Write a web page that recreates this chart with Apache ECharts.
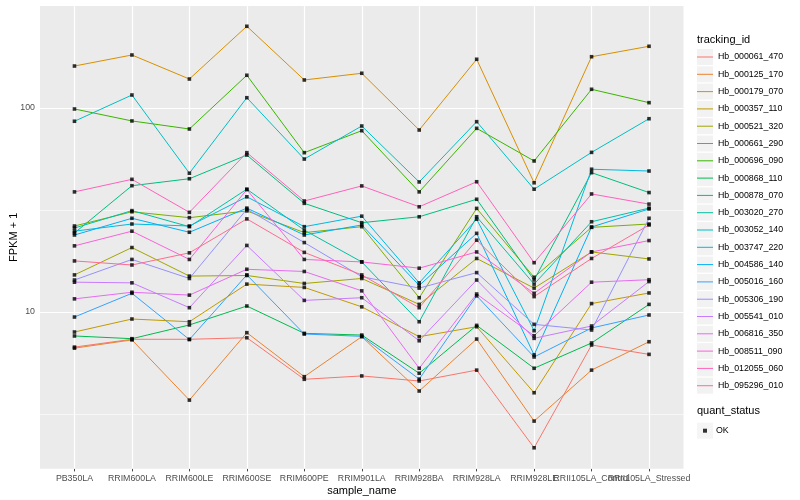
<!DOCTYPE html>
<html>
<head>
<meta charset="utf-8">
<script src="https://cdn.jsdelivr.net/npm/echarts@6/dist/echarts.min.js"></script>
<style>
html,body{margin:0;padding:0;background:#fff;}
#chart{width:800px;height:500px;}
</style>
</head>
<body>
<div id="chart"></div>
<script>
// ---- data ----
const samples = ['PB350LA','RRIM600LA','RRIM600LE','RRIM600SE','RRIM600PE','RRIM901LA','RRIM928BA','RRIM928LA','RRIM928LE','RRII105LA_Control','RRII105LA_Stressed'];
const trackingIds = ['Hb_000061_470','Hb_000125_170','Hb_000179_070','Hb_000357_110','Hb_000521_320','Hb_000661_290','Hb_000696_090','Hb_000868_110','Hb_000878_070','Hb_003020_270','Hb_003052_140','Hb_003747_220','Hb_004586_140','Hb_005016_160','Hb_005306_190','Hb_005541_010','Hb_006816_350','Hb_008511_090','Hb_012055_060','Hb_095296_010'];

const hb_000061_470 = [6.73, 7.35, 7.35, 7.48, 4.68, 4.86, 4.59, 5.19, 2.16, 6.89, 6.20];
const hb_000125_170 = [6.65, 7.30, 3.70, 7.92, 4.82, 7.57, 4.10, 7.37, 2.92, 5.19, 7.15];
const hb_000179_070 = [160.6, 181.9, 138.7, 251.5, 137.2, 148.0, 78.0, 173.3, 43.0, 178.4, 200.7];
const hb_000357_110 = [7.98, 9.24, 8.96, 13.7, 13.2, 10.6, 7.57, 8.47, 4.02, 11.0, 12.4];
const hb_000521_320 = [15.2, 20.7, 15.0, 15.1, 13.8, 14.6, 10.9, 18.3, 13.1, 19.7, 18.2];
const hb_000661_290 = [26.4, 31.0, 29.0, 31.3, 24.5, 26.2, 11.75, 32.2, 14.8, 26.0, 27.0];
const hb_000696_090 = [98.9, 86.4, 78.9, 144.7, 60.4, 77.4, 38.8, 79.5, 55.0, 123.5, 106.2];
const hb_000868_110 = [7.63, 7.40, 8.64, 10.7, 7.86, 7.71, 5.01, 8.60, 5.30, 7.05, 10.9];
const hb_000878_070 = [24.4, 41.6, 45.0, 58.8, 34.1, 27.4, 29.3, 35.7, 14.35, 48.2, 38.5];
const hb_003020_270 = [25.8, 31.4, 26.2, 40.0, 25.2, 17.6, 8.96, 29.3, 13.7, 27.7, 32.3];
const hb_003052_140 = [86.1, 115.8, 47.9, 112.3, 56.2, 81.6, 43.4, 85.7, 40.0, 60.6, 88.6];
const hb_003747_220 = [24.9, 27.0, 26.4, 36.7, 26.2, 29.5, 13.9, 28.5, 8.10, 50.1, 49.1];
const hb_004586_140 = [23.85, 28.8, 24.6, 32.3, 23.85, 26.7, 13.5, 24.3, 6.16, 26.1, 32.0];
const hb_005016_160 = [9.45, 12.35, 7.33, 15.2, 7.80, 7.60, 4.69, 12.0, 6.02, 8.35, 9.67];
const hb_005306_190 = [14.35, 18.1, 14.6, 31.9, 21.9, 14.9, 13.1, 15.6, 8.70, 8.16, 28.8];
const hb_005541_010 = [14.0, 13.9, 10.5, 21.2, 11.4, 11.75, 7.23, 14.35, 7.43, 8.54, 14.1];
const hb_006816_350 = [11.6, 12.5, 12.1, 16.2, 15.8, 12.7, 5.30, 12.25, 7.65, 14.0, 14.4];
const hb_008511_090 = [21.1, 24.9, 18.1, 39.8, 18.1, 17.6, 16.4, 19.7, 12.35, 19.7, 22.4];
const hb_012055_060 = [38.8, 44.7, 30.8, 60.4, 35.0, 41.5, 32.8, 43.5, 17.45, 37.9, 33.8];
const hb_095296_010 = [17.8, 17.0, 19.5, 28.6, 19.6, 15.2, 10.5, 22.5, 11.9, 18.3, 26.7];

const seriesValues = [hb_000061_470, hb_000125_170, hb_000179_070, hb_000357_110, hb_000521_320,
  hb_000661_290, hb_000696_090, hb_000868_110, hb_000878_070, hb_003020_270, hb_003052_140,
  hb_003747_220, hb_004586_140, hb_005016_160, hb_005306_190, hb_005541_010, hb_006816_350,
  hb_008511_090, hb_012055_060, hb_095296_010];

const yTickLabels = [10, 100];
const yMinorGrid = [3.162, 31.62];
const quantStatus = ['OK'];

// ---- style ----
const colors = ['#F8766D','#EA8331','#D89000','#C09B00','#A3A500','#7CAE00','#39B600','#00BB4E','#00BF7D','#00C1A3','#00BFC4','#00BAE0','#00B0F6','#35A2FF','#9590FF','#C77CFF','#E76BF3','#FA62DB','#FF62BC','#FF6C91'];
const FONT = 'Liberation Sans, Arial, sans-serif';
const xIdx = samples.map((s, i) => i);
const xEven = xIdx.filter(i => i % 2 === 0);
const xOdd = xIdx.filter(i => i % 2 === 1);

const chart = echarts.init(document.getElementById('chart'), null, {renderer: 'canvas'});

const gridLines = [];
yTickLabels.forEach(v => gridLines.push({yAxis: v, lineStyle: {color: '#ffffff', width: 1.2, type: 'solid'}}));
yMinorGrid.forEach(v => gridLines.push({yAxis: v, lineStyle: {color: '#ffffff', width: 0.6, type: 'solid'}}));
xIdx.forEach(v => gridLines.push({xAxis: v, lineStyle: {color: '#ffffff', width: 1.2, type: 'solid'}}));

const series = [];
series.push({
  name: '__grid', type: 'line', data: [], silent: true, z: 1,
  markLine: {silent: true, z: 1, symbol: ['none', 'none'], label: {show: false}, animation: false, data: gridLines}
});
trackingIds.forEach((name, k) => {
  series.push({
    name: name, type: 'line', z: 2,
    data: seriesValues[k].map((v, i) => [i, v]),
    symbol: 'none', showSymbol: false,
    lineStyle: {color: colors[k], width: 1},
    itemStyle: {color: colors[k]},
    emphasis: {disabled: true}, silent: true
  });
});
const allPoints = [];
seriesValues.forEach(arr => arr.forEach((v, i) => allPoints.push([i, v])));
series.push({
  name: quantStatus[0], type: 'scatter', z: 3, data: allPoints,
  symbol: 'rect', symbolSize: 3.6, itemStyle: {color: '#000000'},
  emphasis: {disabled: true}, silent: true
});

const legendCommon = {orient: 'vertical', padding: 0, selectedMode: false, itemGap: 1.3};

function makeXAxis(vals, withName) {
  const ax = {
    type: 'value', min: -0.6, max: 10.6, position: 'bottom', offset: 0,
    axisLine: {show: false},
    axisTick: {show: true, length: 2.7, customValues: vals, lineStyle: {color: '#333333', width: 0.9}},
    axisLabel: {customValues: vals, formatter: v => samples[Math.round(v)], fontSize: 8.8, color: '#4D4D4D', margin: 5, fontFamily: FONT, hideOverlap: false, showMinLabel: true, showMaxLabel: true},
    splitLine: {show: false}
  };
  if (withName) {
    ax.name = 'sample_name';
    ax.nameLocation = 'middle';
    ax.nameGap = 17;
    ax.nameMoveOverlap = false;
    ax.nameTextStyle = {fontSize: 11, color: '#000', fontFamily: FONT};
  }
  return ax;
}

const option = {
  animation: false,
  backgroundColor: '#ffffff',
  textStyle: {fontFamily: FONT},
  grid: {left: 40, right: 116.5, top: 6, bottom: 31.3, show: true, backgroundColor: '#EBEBEB', borderWidth: 0, containLabel: false, outerBoundsMode: 'none'},
  xAxis: [makeXAxis(xEven, true), makeXAxis(xOdd, false)],
  yAxis: {
    type: 'log', logBase: 10, min: 1.706, max: 316.2,
    name: 'FPKM + 1', nameLocation: 'middle', nameGap: 21, nameRotate: 90, nameMoveOverlap: false,
    nameTextStyle: {fontSize: 11, color: '#000', fontFamily: FONT},
    axisLine: {show: false},
    axisTick: {show: true, length: 2.7, customValues: yTickLabels, lineStyle: {color: '#333333', width: 0.9}},
    axisLabel: {customValues: yTickLabels, fontSize: 8.8, color: '#4D4D4D', margin: 5, fontFamily: FONT},
    splitLine: {show: false}, minorSplitLine: {show: false}
  },
  legend: [
    Object.assign({}, legendCommon, {
      id: 'idBg', left: 697, top: 49, itemWidth: 16, itemHeight: 16,
      data: trackingIds.map(n => ({name: n, icon: 'rect', itemStyle: {color: '#F2F2F2', borderWidth: 0}})),
      textStyle: {fontSize: 9, lineHeight: 16, color: 'rgba(0,0,0,0)'}
    }),
    Object.assign({}, legendCommon, {
      id: 'idLine', left: 697, top: 49, itemWidth: 16, itemHeight: 1.1,
      data: trackingIds.map((n, i) => ({name: n, icon: 'path://M0,0H16V1H0Z', itemStyle: {color: colors[i], borderWidth: 0}})),
      textStyle: {fontSize: 8.8, lineHeight: 16, color: '#000', fontFamily: FONT}
    }),
    Object.assign({}, legendCommon, {
      id: 'qBg', left: 697, top: 422.7, itemWidth: 16, itemHeight: 16,
      data: quantStatus.map(n => ({name: n, icon: 'rect', itemStyle: {color: '#F2F2F2', borderWidth: 0}})),
      textStyle: {fontSize: 9, lineHeight: 16, color: 'rgba(0,0,0,0)'}
    }),
    Object.assign({}, legendCommon, {
      id: 'qKey', left: 703, top: 422.7, itemWidth: 4, itemHeight: 4,
      data: quantStatus.map(n => ({name: n, icon: 'rect', itemStyle: {color: '#000', borderWidth: 0}})),
      textStyle: {fontSize: 8.8, lineHeight: 16, color: '#000', fontFamily: FONT, padding: [0, 0, 0, 4]}
    })
  ],
  graphic: [
    {type: 'text', left: 697, top: 34.5, silent: true, style: {text: 'tracking_id', fontSize: 11, fill: '#000', fontFamily: FONT}},
    {type: 'text', left: 697, top: 405.5, silent: true, style: {text: 'quant_status', fontSize: 11, fill: '#000', fontFamily: FONT}}
  ],
  series: series
};
chart.setOption(option);
</script>
</body>
</html>
